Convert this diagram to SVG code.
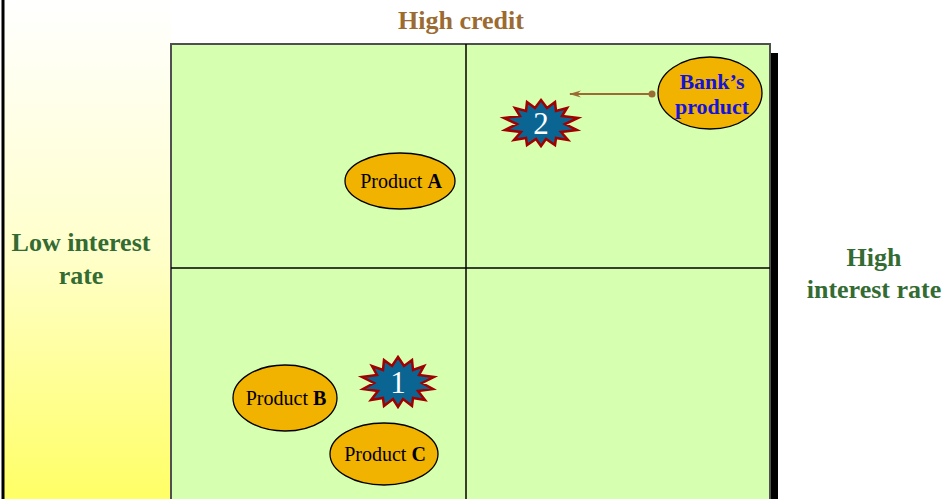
<svg xmlns="http://www.w3.org/2000/svg" width="949" height="499" viewBox="0 0 949 499">
<style>
.axis{font-family:"Liberation Serif",serif;font-weight:bold;font-size:26px;text-anchor:middle}
.green{fill:#336B33}
.prod{fill:#F2B200;stroke:#000;stroke-width:1.3}
.pt{font-family:"Liberation Serif",serif;font-size:20px;text-anchor:middle;fill:#000}
.bank{font-family:"Liberation Serif",serif;font-weight:bold;font-size:22px;text-anchor:middle;fill:#1414D8}
.star{fill:#0A6592;stroke:#A00000;stroke-width:2.5;stroke-linejoin:miter}
.num{font-family:"Liberation Serif",serif;font-size:31px;text-anchor:middle;fill:#FFFFFF}
.grid{stroke:#000;stroke-width:1.5}
</style>
<defs>
<linearGradient id="yg" x1="0" y1="0" x2="0" y2="1">
<stop offset="0" stop-color="#FFFFFF"/>
<stop offset="0.5" stop-color="#FFFFCC"/>
<stop offset="1" stop-color="#FFFF66"/>
</linearGradient>
<marker id="ah" viewBox="0 0 12 8" refX="11" refY="4" markerWidth="12" markerHeight="8" markerUnits="userSpaceOnUse" orient="auto">
<path d="M12,4 L0,0.5 L4,4 L0,7.5 Z" fill="#9B6B32"/>
</marker>
</defs>
<rect width="949" height="499" fill="#FFFFFF"/>
<g id="left-panel">
<rect x="4" y="0" width="167" height="499" fill="url(#yg)"/>
<line x1="3" y1="0" x2="3" y2="499" stroke="#000" stroke-width="3"/>
</g>
<g id="matrix">
<rect x="770" y="53" width="8" height="446" fill="#000"/>
<rect x="171" y="44" width="599" height="460" fill="#D7FFB0" stroke="#505050" stroke-width="2"/>
<line class="grid" x1="466" y1="44" x2="466" y2="499"/>
<line class="grid" x1="171" y1="268" x2="770" y2="268"/>
</g>
<g id="label-high-credit"><text class="axis" x="461" y="29" fill="#9B6B32">High credit</text></g>
<g id="label-low-rate"><text class="axis green" x="81" y="251">Low interest</text><text class="axis green" x="81" y="284">rate</text></g>
<g id="label-high-rate"><text class="axis green" x="874" y="266">High</text><text class="axis green" x="874" y="298">interest rate</text></g>
<g id="connectors">
<line x1="652" y1="94" x2="570" y2="94" stroke="#9B6B32" stroke-width="2.2" marker-end="url(#ah)"/>
<circle cx="652" cy="94" r="3.5" fill="#9B6B32"/>
</g>
<g id="product-a"><ellipse class="prod" cx="400" cy="181" rx="55" ry="28"/><text class="pt" x="401" y="188">Product <tspan font-weight="bold">A</tspan></text></g>
<g id="product-b"><ellipse class="prod" cx="285" cy="398" rx="52" ry="33"/><text class="pt" x="286" y="405">Product <tspan font-weight="bold">B</tspan></text></g>
<g id="product-c"><ellipse class="prod" cx="384" cy="454" rx="54" ry="31"/><text class="pt" x="385" y="461">Product  <tspan font-weight="bold">C</tspan></text></g>
<g id="bank-product"><ellipse class="prod" cx="710" cy="93" rx="52" ry="36"/><text class="bank" x="712" y="89">Bank’s</text><text class="bank" x="712" y="114">product</text></g>
<g id="star-2">
<polygon class="star" transform="translate(541,123)" points="0,-23 6,-15 14,-21 15,-12 26,-15 21,-7 37,-5 24,1 36,7 20,9 27,17 15,15 14,22 5,16 0,23 -5,16 -14,22 -15,15 -27,17 -20,9 -36,7 -24,1 -37,-5 -21,-7 -26,-15 -15,-12 -14,-21 -6,-15"/>
<text class="num" x="541" y="134">2</text>
</g>
<g id="star-1">
<polygon class="star" transform="translate(398,382)" points="0,-25 6,-16 14,-22 15,-12 26,-16 21,-7 36,-5 24,1 35,7 20,9 27,18 15,16 14,24 5,17 0,25 -5,17 -14,24 -15,16 -27,18 -20,9 -35,7 -24,1 -36,-5 -21,-7 -26,-16 -15,-12 -14,-22 -6,-16"/>
<text class="num" x="398" y="393">1</text>
</g>
</svg>
